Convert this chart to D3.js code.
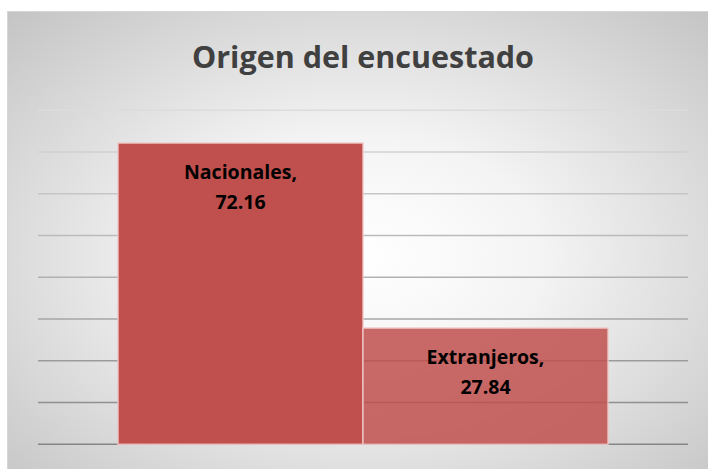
<!DOCTYPE html>
<html>
<head>
<meta charset="utf-8">
<script src="https://cdn.jsdelivr.net/npm/d3@7"></script>
<style>
  body { margin: 0; background: #fff; }
</style>
</head>
<body>
<svg id="chart" width="708" height="469"></svg>
<script>
(function () {
  const categories = [""];
  const series = ["Nacionales", "Extranjeros"];
  const values = [72.16, 27.84];
  const yTicks = [0, 10, 20, 30, 40, 50, 60, 70, 80];
  const title = "Origen del encuestado";

  const svg = d3.select("#chart");
  const width = +svg.attr("width");
  const height = +svg.attr("height");
  const margin = { top: 110.3, right: 20, bottom: 24.7, left: 38 };

  const defs = svg.append("defs");
  const grad = defs
    .append("radialGradient")
    .attr("id", "bg")
    .attr("cx", "50%")
    .attr("cy", "52%")
    .attr("r", "72%");
  grad.append("stop").attr("offset", "0%").attr("stop-color", "#ffffff");
  grad.append("stop").attr("offset", "35%").attr("stop-color", "#f4f4f4");
  grad.append("stop").attr("offset", "100%").attr("stop-color", "#c4c4c4");

  svg
    .append("rect")
    .attr("x", 7.5)
    .attr("y", 11.5)
    .attr("width", width)
    .attr("height", height)
    .attr("fill", "url(#bg)")
    .attr("stroke", "#d6d6d6");

  const x0 = d3
    .scaleBand()
    .domain(categories)
    .range([margin.left, width - margin.right]);

  const x1 = d3
    .scaleBand()
    .domain(series)
    .range([0, x0.bandwidth()])
    .paddingInner(0)
    .paddingOuter(0.3265);

  const y = d3
    .scaleLinear()
    .domain([0, 80])
    .range([height - margin.bottom, margin.top]);

  const gridColor = d3
    .scaleLinear()
    .domain([0, 80])
    .range(["#858585", "#dcdcdc"]);

  svg
    .append("g")
    .selectAll(null)
    .data(yTicks)
    .enter()
    .append("line")
    .attr("x1", margin.left)
    .attr("x2", width - margin.right)
    .attr("y1", (d) => y(d))
    .attr("y2", (d) => y(d))
    .attr("stroke", (d) => gridColor(d))
    .style("stroke-width", "1.6px");

  const data = series.map((s, i) => ({ cat: categories[0], name: s, value: values[i] }));

  const bars = svg.append("g");
  bars
    .selectAll(null)
    .data(data)
    .enter()
    .append("rect")
    .attr("x", (d) => x0(d.cat) + x1(d.name))
    .attr("y", (d) => y(d.value))
    .attr("width", x1.bandwidth())
    .attr("height", (d) => y(0) - y(d.value))
    .attr("fill", "#c0504d")
    .attr("fill-opacity", (d, i) => (i === 0 ? 1 : 0.85))
    .attr("stroke", "#f0c8c7")
    .attr("stroke-opacity", 0.9)
    .style("stroke-width", "1.5px");

  const labels = svg.append("g");
  data.forEach((d) => {
    const cx = x0(d.cat) + x1(d.name) + x1.bandwidth() / 2;
    const top = y(d.value);
    const t = labels
      .append("text")
      .attr("text-anchor", "middle")
      .style("font-family", "'Open Sans', sans-serif")
      .style("font-weight", "bold")
      .style("font-size", "19.5px")
      .attr("fill", "#000");
    t.append("tspan").attr("x", cx).attr("y", top + 36).text(d.name + ",");
    t.append("tspan").attr("x", cx).attr("y", top + 66).text(d.value.toFixed(2));
  });

  svg
    .append("text")
    .attr("x", 363)
    .attr("y", 68)
    .attr("text-anchor", "middle")
    .style("font-family", "'Open Sans', sans-serif")
    .style("font-weight", "bold")
    .style("font-size", "30.5px")
    .attr("fill", "#404040")
    .text(title);
})();
</script>
</body>
</html>
